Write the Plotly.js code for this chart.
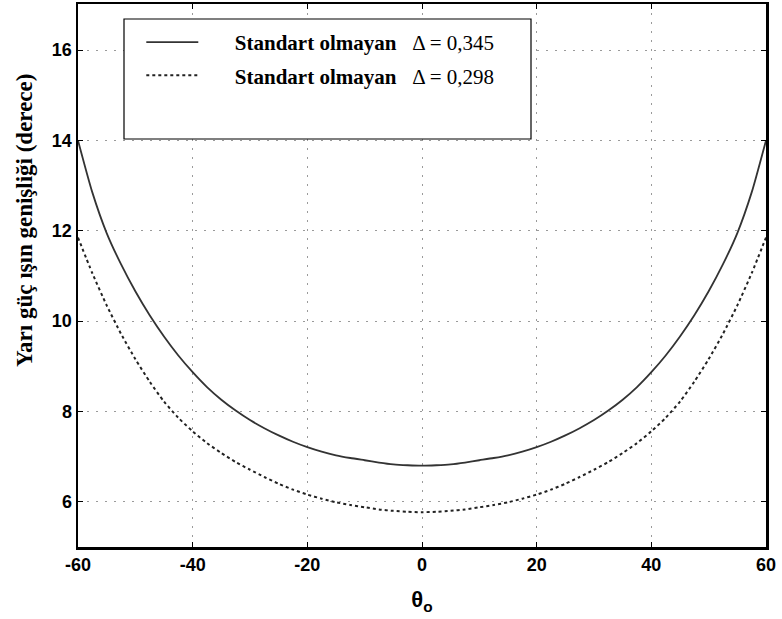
<!DOCTYPE html>
<html>
<head>
<meta charset="utf-8">
<script src="https://cdn.plot.ly/plotly-3.0.1.min.js"></script>
<style>html,body{margin:0;padding:0;background:#fff;}#chart{width:782px;height:619px;}</style>
</head>
<body>
<div id="chart"></div>
<script>
// theta0 (degrees)
const theta = [-60,-57.5,-55,-52.5,-50,-47.5,-45,-42.5,-40,-37.5,-35,-32.5,-30,-27.5,-25,-22.5,-20,-17.5,-15,-12.5,-10,-7.5,-5,-2.5,0,
               2.5,5,7.5,10,12.5,15,17.5,20,22.5,25,27.5,30,32.5,35,37.5,40,42.5,45,47.5,50,52.5,55,57.5,60];
// half-power beamwidth, Delta = 0,345 (solid)
const hpbw345 = [14.0,12.85,11.95,11.26,10.66,10.13,9.66,9.24,8.87,8.54,8.26,8.02,7.81,7.63,7.47,7.33,7.21,7.11,7.03,6.97,6.92,6.87,6.83,6.81,6.80,
                 6.81,6.83,6.87,6.92,6.97,7.03,7.11,7.21,7.33,7.47,7.63,7.81,8.02,8.26,8.54,8.87,9.24,9.66,10.13,10.66,11.26,11.95,12.85,14.0];
// half-power beamwidth, Delta = 0,298 (dotted)
const hpbw298 = [11.85,11.06,10.35,9.72,9.16,8.66,8.22,7.86,7.56,7.30,7.08,6.88,6.71,6.55,6.40,6.27,6.16,6.07,5.99,5.93,5.88,5.83,5.80,5.78,5.77,
                 5.78,5.80,5.83,5.88,5.93,5.99,6.07,6.16,6.27,6.40,6.55,6.71,6.88,7.08,7.30,7.56,7.86,8.22,8.66,9.16,9.72,10.35,11.06,11.85];
const pad = '\u00A0\u00A0\u00A0\u00A0\u00A0\u00A0';
const names = [pad + '<b>Standart olmayan</b>\u00A0\u00A0\u00A0Δ = 0,345', pad + '<b>Standart olmayan</b>\u00A0\u00A0\u00A0Δ = 0,298'];
const xTicks = [-60,-40,-20,0,20,40,60];
const yTicks = [6,8,10,12,14,16];

const traces = [
  {x: theta, y: hpbw345, type:'scatter', mode:'lines', name: names[0], legendgroup:'a',
   line:{color:'#333', width:1.8, shape:'spline', smoothing:0.6}},
  {x: theta, y: hpbw298, type:'scatter', mode:'lines', name: names[1], legendgroup:'b',
   line:{color:'#222', width:2, dash:'3px,3px', shape:'spline', smoothing:0.6}}
];

const tickFont = {family:'Liberation Sans, Arial, sans-serif', size:18, color:'#000', weight:'bold'};
const gridCommon = {showgrid:true, gridcolor:'#9a9a9a', gridwidth:1, griddash:'2px,7px',
  showline:true, linecolor:'#000', linewidth:2.5, mirror:'ticks', ticks:'inside', ticklen:5, tickwidth:1, tickcolor:'#000',
  zeroline:false, tickfont:tickFont};

const layout = {
  width:782, height:619,
  margin:{l:78, r:16, t:4, b:72},
  paper_bgcolor:'#fff', plot_bgcolor:'#fff',
  showlegend:true,
  legend:{x:0.092, y:0.967, xanchor:'left', yanchor:'top', bgcolor:'rgba(0,0,0,0)', borderwidth:0,
          font:{family:'Liberation Serif, Times New Roman, serif', size:21, color:'#000'},
          itemwidth:52, traceorder:'grouped', tracegroupgap:3},
  xaxis: Object.assign({}, gridCommon, {range:[-60,60], tickvals:xTicks, ticktext:xTicks.map(String),
          title:{text:'<b>θ<sub>o</sub></b>', font:{family:'Liberation Sans, Arial, sans-serif', size:22, color:'#000'}, standoff:18}}),
  yaxis: Object.assign({}, gridCommon, {range:[5,17.02], tickvals:yTicks, ticktext:yTicks.map(String)}),
  annotations:[
    {text:'<b>Yarı güç ışın genişliği (derece)</b>', xref:'paper', yref:'paper', x:(24-78)/688, y:(547-221)/543,
     xanchor:'center', yanchor:'middle', textangle:-90, showarrow:false,
     font:{family:'Liberation Serif, Times New Roman, serif', size:23, color:'#000'}}
  ],
  shapes:[
    {type:'rect', xref:'paper', yref:'paper', x0:(124-78)/688, x1:(531-78)/688, y0:(547-139)/543, y1:(547-19)/543,
     line:{color:'#000', width:1.2}, fillcolor:'#fff', layer:'above'}
  ]
};

Plotly.newPlot('chart', traces, layout, {displayModeBar:false, staticPlot:true});
</script>
</body>
</html>
